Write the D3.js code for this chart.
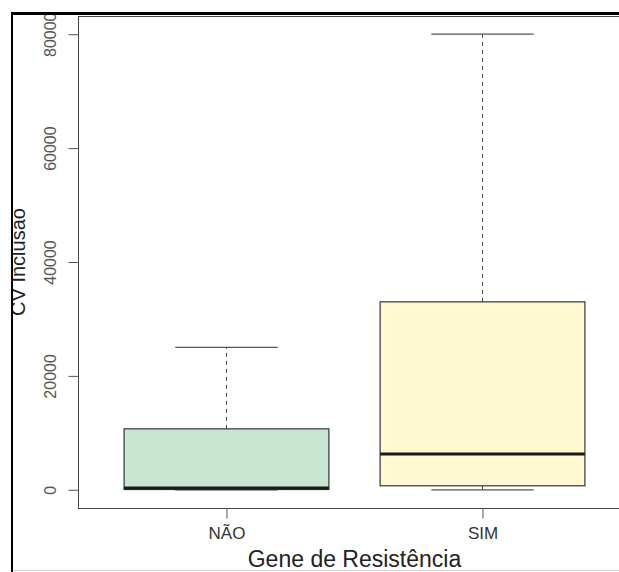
<!DOCTYPE html>
<html>
<head>
<meta charset="utf-8">
<script src="https://cdn.jsdelivr.net/npm/d3@7"></script>
<style>
  body { margin: 0; background: #fff; }
  #dataviz { width: 619px; height: 572px; }
  text { font-family: "Liberation Sans", Arial, sans-serif; }
</style>
</head>
<body>
<div id="dataviz"></div>
<script>
// boxplot data
var groups = ["NÃO", "SIM"];
var mins = [0, 0];
var q1s = [50, 700];
var medians = [300, 6300];
var q3s = [10700, 33000];
var maxs = [25000, 80000];
var fills = ["#c9e6d3", "#fff8d2"];
var yTicks = [0, 20000, 40000, 60000, 80000];

var width = 619, height = 572;

var svg = d3.select("#dataviz")
  .append("svg")
    .attr("width", width)
    .attr("height", height);

// scales: R style, 4% extension around the data range
var x = d3.scaleLinear()
  .domain([0.42, 2.58])
  .range([78, 631]);

var y = d3.scaleLinear()
  .domain([-3200, 83200])
  .range([508, 16]);

var boxes = groups.map(function(g, i) {
  return {name: g, pos: i + 1, min: mins[i], q1: q1s[i], med: medians[i],
          q3: q3s[i], max: maxs[i], fill: fills[i]};
});

// whiskers (dashed)
svg.selectAll(".whiskerUp")
  .data(boxes)
  .enter()
  .append("line")
    .attr("x1", function(d){ return x(d.pos); })
    .attr("x2", function(d){ return x(d.pos); })
    .attr("y1", function(d){ return y(d.q3); })
    .attr("y2", function(d){ return y(d.max); })
    .attr("stroke", "#444")
    .attr("stroke-dasharray", "4,4");

svg.selectAll(".whiskerDown")
  .data(boxes)
  .enter()
  .append("line")
    .attr("x1", function(d){ return x(d.pos); })
    .attr("x2", function(d){ return x(d.pos); })
    .attr("y1", function(d){ return y(d.q1); })
    .attr("y2", function(d){ return y(d.min); })
    .attr("stroke", "#444")
    .attr("stroke-dasharray", "4,4");

// staples
["max", "min"].forEach(function(k) {
  svg.selectAll(".cap-" + k)
    .data(boxes)
    .enter()
    .append("line")
      .attr("x1", function(d){ return x(d.pos - 0.2); })
      .attr("x2", function(d){ return x(d.pos + 0.2); })
      .attr("y1", function(d){ return y(d[k]); })
      .attr("y2", function(d){ return y(d[k]); })
      .attr("stroke", "#555")
      .attr("stroke-width", 1.3);
});

// boxes
svg.selectAll(".box")
  .data(boxes)
  .enter()
  .append("rect")
    .attr("x", function(d){ return x(d.pos - 0.4); })
    .attr("width", function(d){ return x(d.pos + 0.4) - x(d.pos - 0.4); })
    .attr("y", function(d){ return y(d.q3); })
    .attr("height", function(d){ return y(d.q1) - y(d.q3); })
    .attr("fill", function(d){ return d.fill; })
    .attr("stroke", "#333")
    .attr("stroke-width", 1.2);

// medians
svg.selectAll(".median")
  .data(boxes)
  .enter()
  .append("line")
    .attr("x1", function(d){ return x(d.pos - 0.4); })
    .attr("x2", function(d){ return x(d.pos + 0.4); })
    .attr("y1", function(d){ return y(d.med); })
    .attr("y2", function(d){ return y(d.med); })
    .attr("stroke", "#1a1a1a")
    .attr("stroke-width", 3);

// plot frame
svg.append("rect")
  .attr("x", 78.5)
  .attr("y", 16.5)
  .attr("width", 700)
  .attr("height", 508 - 16)
  .attr("fill", "none")
  .attr("stroke", "#444");

// Y axis
var yAxis = svg.append("g")
  .attr("transform", "translate(78.5,0)")
  .call(d3.axisLeft(y).tickValues(yTicks).tickSize(10).tickFormat(d3.format("d")));
yAxis.select(".domain").remove();
yAxis.selectAll("line").attr("stroke", "#555");
yAxis.selectAll("text")
  .attr("x", null)
  .attr("dy", null)
  .attr("transform", "translate(-23,0) rotate(-90)")
  .style("text-anchor", "middle")
  .style("font-size", "16px")
  .attr("fill", "#555");

// X axis
var xAxis = svg.append("g")
  .attr("transform", "translate(0,508.5)")
  .call(d3.axisBottom(x).tickValues([1, 2]).tickSize(10)
    .tickFormat(function(d){ return groups[d - 1]; }));
xAxis.select(".domain").remove();
xAxis.selectAll("line").attr("stroke", "#555");
xAxis.selectAll("text")
  .attr("y", 30)
  .attr("dy", null)
  .style("font-size", "17px")
  .attr("fill", "#333");

// axis titles
svg.append("text")
  .attr("x", x(1.5))
  .attr("y", 567)
  .text("Gene de Resistência")
  .style("text-anchor", "middle")
  .style("font-size", "23px")
  .attr("fill", "#222");

svg.append("text")
  .attr("transform", "translate(25," + ((16 + 508) / 2) + ") rotate(-90)")
  .text("CV Inclusão")
  .style("text-anchor", "middle")
  .style("font-size", "20px")
  .attr("fill", "#222");

// screenshot frame
svg.append("rect").attr("x", 0).attr("y", 0).attr("width", width).attr("height", 12).attr("fill", "#fff");
svg.append("rect").attr("x", 0).attr("y", 0).attr("width", 11).attr("height", height).attr("fill", "#fff");
svg.append("line")
  .attr("x1", 11).attr("x2", width).attr("y1", 13.5).attr("y2", 13.5)
  .attr("stroke", "#000").attr("stroke-width", 3);
svg.append("line")
  .attr("x1", 12).attr("x2", 12).attr("y1", 12).attr("y2", height)
  .attr("stroke", "#000").attr("stroke-width", 2);
svg.append("line")
  .attr("x1", 13).attr("x2", width).attr("y1", 570.5).attr("y2", 570.5)
  .attr("stroke", "#d0d0d0").attr("stroke-width", 1);
</script>
</body>
</html>
